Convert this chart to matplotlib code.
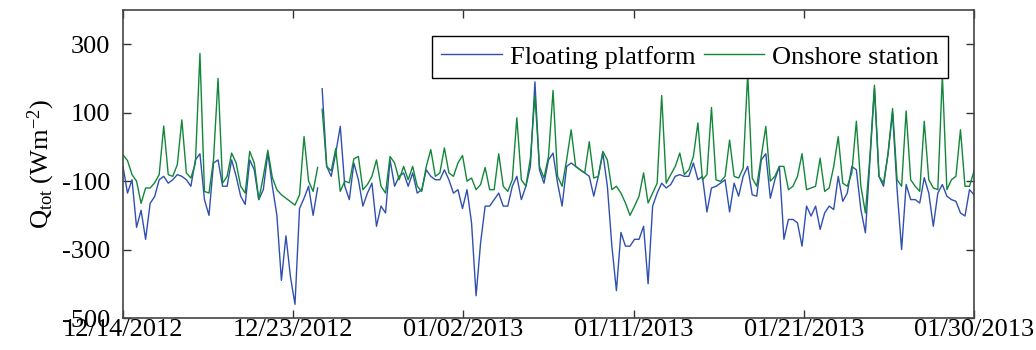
import numpy as np
import matplotlib
matplotlib.use("Agg")
import matplotlib.pyplot as plt

plt.rcParams["font.family"] = ["Liberation Serif", "DejaVu Serif"]
plt.rcParams["mathtext.fontset"] = "custom"
plt.rcParams["mathtext.rm"] = "Liberation Serif"
plt.rcParams["mathtext.it"] = "Liberation Serif:italic"

# days since 12/14/2012 00:00, 6-hourly records
STEP = 0.25
N_DAYS = 47

# total heat flux, floating platform (W m-2), 4 values per day
q_floating = [
    -57, -135, -96, -235,
    -185, -270, -165, -145,
    -96, -86, -106, -96,
    -81, -86, -96, -115,
    -38, -20, -154, -200,
    -47, -38, -115, -115,
    -38, -86, -144, -168,
    -38, -67, -154, -125,
    -18, -115, -200, -390,
    -260, -380, -460, -180,
    -150, -115, -200, -120,
    170, -57, -86, -18,
    60, -115, -154, -47,
    -96, -173, -135, -106,
    -232, -173, -193, -38,
    -115, -86, -76, -115,
    -76, -135, -125, -67,
    -86, -96, -96, -67,
    -96, -135, -125, -180,
    -125, -222, -435, -280,
    -173, -173, -154, -135,
    -173, -173, -115, -86,
    -154, -115, -57, 190,
    -67, -106, -38, -18,
    -106, -173, -57, -47,
    -57, -67, -76, -86,
    -144, -86, -18, -115,
    -290, -420, -250, -290,
    -290, -270, -270, -232,
    -400, -173, -135, -106,
    -120, -110, -86, -81,
    -86, -86, -47, -96,
    -86, -190, -120, -115,
    -106, -96, -190, -106,
    -144, -86, -57, -140,
    -144, -38, -20, -150,
    -96, -57, -270, -212,
    -212, -222, -290, -173,
    -202, -173, -241, -193,
    -173, -183, -86, -159,
    -135, -57, -67, -183,
    -251, -38, 170, -86,
    -115, -20, 100, -125,
    -300, -110, -154, -154,
    -164, -90, -135, -232,
    -135, -110, -144, -154,
    -159, -193, -202, -125,
    -140,
]

# total heat flux, onshore station (W m-2)
q_onshore = [
    -23, -40, -81, -100,
    -165, -120, -120, -105,
    -81, 61, -81, -86,
    -52, 79, -76, -91,
    -47, 273, -130, -135,
    -38, 200, -106, -86,
    -18, -47, -115, -135,
    -13, -47, -154, -86,
    -10, -90, -125, -140,
    -150, -160, -170, -140,
    30, -100, -130, -60,
    110, -57, -70, -5,
    -130, -100, -105, -35,
    -28, -125, -110, -86,
    -38, -115, -135, -28,
    -47, -96, -57, -96,
    -57, -115, -130, -57,
    -8, -86, -76, -3,
    -76, -86, -47, -25,
    -100, -91, -125, -110,
    -60, -125, -125, -20,
    -115, -130, -96, 85,
    -96, -115, -33, 150,
    -57, -91, -28, 165,
    -86, -115, -38, 50,
    -57, -67, -76, 15,
    -91, -86, -13, -38,
    -125, -115, -135, -164,
    -200, -173, -144, -76,
    -164, -135, -106, 150,
    -106, -81, -57, -18,
    -81, -67, -28, 70,
    -96, -81, 115, -96,
    -101, -86, 20, -86,
    -91, -62, 215, -91,
    -115, -28, 60, -100,
    -86, -57, -57, -125,
    -115, -86, -20, -125,
    -120, -115, -33, -130,
    -120, -57, 30, -106,
    -115, -76, 75, -115,
    -193, -28, 180, -86,
    -106, -20, 112, -96,
    -115, 105, -96, -115,
    -130, 75, -96, -120,
    -125, 210, -125, -96,
    -86, 50, -115, -115,
    -70,
]

# missing record (data gap) on 12/24
gap_day = 10.82

xtick_labels = ["12/14/2012", "12/23/2012", "01/02/2013",
                "01/11/2013", "01/21/2013", "01/30/2013"]
ytick_values = [300, 100, -100, -300, -500]

days = np.arange(len(q_floating)) * STEP
idx = np.searchsorted(days, gap_day)
t = np.insert(days, idx, gap_day)
yf = np.insert(np.array(q_floating, dtype=float), idx, np.nan)
yo = np.insert(np.array(q_onshore, dtype=float), idx, np.nan)

fig = plt.figure(figsize=(10.36, 3.5), dpi=100)
ax = fig.add_axes([0.1187, 0.0914, 0.8215, 0.88])

ax.plot(t, yf, color="#3050b0", lw=1.0, label="Floating platform")
ax.plot(t, yo, color="#12873a", lw=1.0, label="Onshore station")

ax.set_xlim(0, N_DAYS)
ax.set_ylim(-500, 400)
ax.set_xticks(np.linspace(0, N_DAYS, len(xtick_labels)))
ax.set_xticklabels(xtick_labels)
ax.set_yticks(ytick_values)
ax.set_yticklabels([str(v) for v in ytick_values])

ax.tick_params(direction="in", length=6, width=1, color="#333333",
               top=True, right=True, labelsize=19)
ax.tick_params(axis="x", pad=1)
ax.tick_params(axis="y", pad=9)
for sp in ax.spines.values():
    sp.set_color("#444444")
    sp.set_linewidth(1.2)

ax.set_ylabel(r"Q$_{\mathrm{tot}}$ (Wm$^{-2}$)", fontsize=19, labelpad=4)

leg = ax.legend(loc="upper right", ncol=2, fontsize=19, frameon=True,
                fancybox=False, edgecolor="black", framealpha=1,
                handlelength=2.3, handletextpad=0.3, columnspacing=0.3,
                borderpad=0.35, borderaxespad=0,
                bbox_to_anchor=(0.9695, 0.916))
leg.get_frame().set_linewidth(1.0)

fig.savefig("out.png", dpi=100)
